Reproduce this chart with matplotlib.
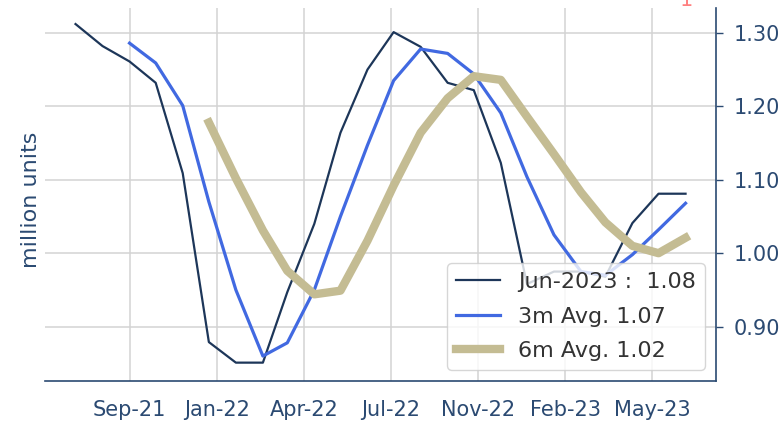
import pandas as pd
import matplotlib
matplotlib.use('Agg')
import matplotlib.pyplot as plt
import matplotlib.dates as mdates

# monthly sales, million units (Jul-2021 .. Jun-2023)
months = pd.date_range('2021-07-01', periods=24, freq='MS')
sales = [1.312, 1.282, 1.261, 1.232, 1.109, 0.879, 0.851, 0.851, 0.947, 1.040,
         1.164, 1.250, 1.301, 1.281, 1.232, 1.222, 1.123, 0.958, 0.975, 0.975,
         0.968, 1.041, 1.081, 1.081]
# 3-month average, starts Sep-2021
avg3 = [1.286, 1.259, 1.201, 1.070, 0.950, 0.860, 0.878, 0.950, 1.050, 1.147,
        1.235, 1.278, 1.272, 1.244, 1.191, 1.104, 1.025, 0.975, 0.970, 0.998,
        1.032, 1.068]
# 6-month average, starts Dec-2021
avg6 = [1.178, 1.102, 1.031, 0.976, 0.944, 0.949, 1.017, 1.092, 1.164, 1.211,
        1.241, 1.236, 1.186, 1.135, 1.083, 1.042, 1.010, 1.000, 1.021]

tick_dates = pd.date_range('2021-09-01', periods=7, freq='100D')
tick_labels = ['Sep-21', 'Jan-22', 'Apr-22', 'Jul-22', 'Nov-22', 'Feb-23', 'May-23']
yticks = [0.90, 1.00, 1.10, 1.20, 1.30]

navy = '#1d3659'
axis_col = '#2b4a72'

fig = plt.figure(figsize=(7.83, 4.24), dpi=100)
ax = fig.add_axes([0.0575, 0.1014, 0.857, 0.880])

ax.plot(months, sales, color=navy, lw=1.6,
        label=f"{months[-1]:%b-%Y} :  {sales[-1]:.2f}")
ax.plot(months[2:], avg3, color='#4169e1', lw=2.3, label=f"3m Avg. {avg3[-1]:.2f}")
ax.plot(months[5:], avg6, color='#c4bc93', lw=6, label=f"6m Avg. {avg6[-1]:.2f}")

ax.set_xlim(pd.Timestamp('2021-05-27'), pd.Timestamp('2023-07-06'))
ax.set_ylim(0.826, 1.334)

ax.set_xticks(tick_dates)
ax.set_xticklabels(tick_labels)
ax.set_yticks(yticks)
ax.set_yticklabels([f"{v:.2f}" for v in yticks])

ax.yaxis.tick_right()
ax.yaxis.set_label_position('left')
ax.set_ylabel('million units', fontsize=16, color=axis_col)
ax.yaxis.set_label_coords(-0.006, 0.485)

ax.tick_params(axis='x', length=0, pad=14, labelsize=15, labelcolor=axis_col)
ax.tick_params(axis='y', length=5, width=1, color=axis_col, pad=8,
               labelsize=15, labelcolor=axis_col)

for s in ['top', 'left']:
    ax.spines[s].set_visible(False)
for s in ['right', 'bottom']:
    ax.spines[s].set_color(axis_col)
    ax.spines[s].set_linewidth(1.2)

ax.grid(True, color='#d3d3d3', lw=1.1)
ax.set_axisbelow(True)

leg = ax.legend(loc='lower right', fontsize=16, edgecolor='#cccccc',
                labelcolor='#333333', labelspacing=0.65)

fig.text(686 / 783, 1 - 6 / 424, '1', color='#ff8080', fontsize=15,
         ha='center', va='baseline')

fig.savefig('out.png', dpi=100)
